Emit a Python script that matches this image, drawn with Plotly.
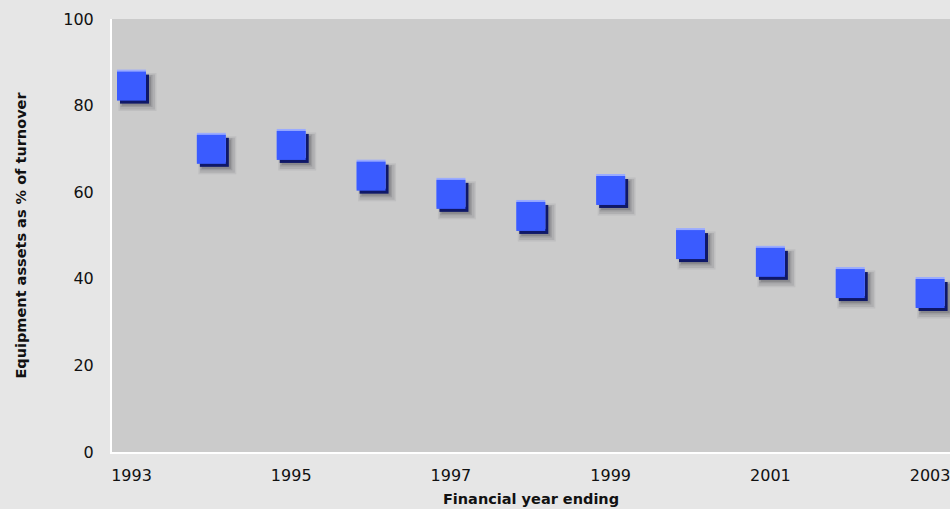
import plotly.graph_objects as go

years = [1993, 1994, 1995, 1996, 1997, 1998, 1999, 2000, 2001, 2002, 2003]
values = [84.5, 69.9, 70.8, 63.7, 59.5, 54.4, 60.4, 47.9, 43.8, 38.9, 36.6]
x_ticks = [1993, 1995, 1997, 1999, 2001, 2003]
y_ticks = [0, 20, 40, 60, 80, 100]

# pixel-based offsets converted to data units (x ~79.9 px/yr, y ~4.33 px/unit)
px_x = 1 / 79.87
px_y = 1 / 4.33

fig = go.Figure()
# soft shadow layers
for off, size, alpha in [(6, 38, 0.07), (6, 35, 0.10), (5, 32, 0.14), (5, 29, 0.16)]:
    fig.add_trace(go.Scatter(
        x=[v + off * px_x for v in years], y=[v - off * px_y for v in values],
        mode="markers", hoverinfo="skip",
        marker=dict(symbol="square", size=size, color=f"rgba(40,40,50,{alpha})", line=dict(width=0)),
    ))
# dark bevel (bottom/right edge)
fig.add_trace(go.Scatter(
    x=[v + 3 * px_x for v in years], y=[v - 3 * px_y for v in values],
    mode="markers", hoverinfo="skip",
    marker=dict(symbol="square", size=29, color="#0f1868", line=dict(width=0)),
))
# light top edge
fig.add_trace(go.Scatter(
    x=years, y=[v + 2 * px_y for v in values],
    mode="markers", hoverinfo="skip",
    marker=dict(symbol="square", size=29, color="#9aabff", line=dict(width=0)),
))
# main face
fig.add_trace(go.Scatter(
    x=years, y=values, mode="markers",
    marker=dict(symbol="square", size=29, color="#3a5bff", line=dict(width=0)),
))

font = "DejaVu Sans, sans-serif"
fig.update_layout(
    width=950, height=509,
    margin=dict(l=112, r=0, t=19, b=57),
    paper_bgcolor="#e6e6e6", plot_bgcolor="#cbcbcb",
    showlegend=False,
    font=dict(family=font, size=16, color="#111111"),
    xaxis=dict(range=[1992.756, 2003.249], tickvals=x_ticks, showgrid=False, zeroline=False,
               showline=True, linecolor="white", linewidth=2, ticks="", ticklabelstandoff=8,
               ticklabeloverflow="allow",
               title=dict(text="<b>Financial year ending</b>", font=dict(size=14.5), standoff=10)),
    yaxis=dict(range=[0, 100], tickvals=y_ticks, showgrid=False, zeroline=False,
               showline=True, linecolor="white", linewidth=2, ticks="", ticklabelstandoff=13,
               title=dict(text="<b>Equipment assets as % of turnover</b>", font=dict(size=14.5), standoff=33)),
)
fig.write_html("out.html")
